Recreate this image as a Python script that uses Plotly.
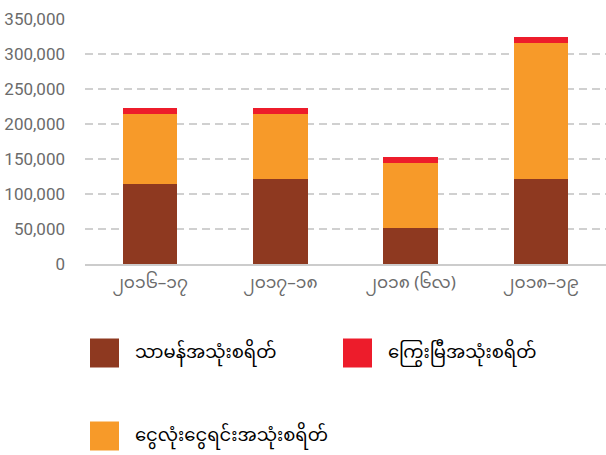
import plotly.graph_objects as go

categories = ["၂၀၁၆–၁၇", "၂၀၁၇–၁၈", "၂၀၁၈ (၆လ)", "၂၀၁၈–၁၉"]
regular = [114300, 121400, 51400, 121400]
capital = [100000, 92900, 92900, 194300]
debt = [8600, 8600, 8600, 8600]

names = ["သာမန်အသုံးစရိတ်", "ငွေလုံးငွေရင်းအသုံးစရိတ်", "ကြွေးမြီအသုံးစရိတ်"]
colors = ["#8E3920", "#F79A29", "#ED1C2B"]
tick_vals = [0, 50000, 100000, 150000, 200000, 250000, 300000, 350000]

MY_FONT = "Noto Sans Myanmar, Padauk, Myanmar Text, Noto Sans, sans-serif"
NUM_FONT = "Liberation Sans Narrow, Arial Narrow, Roboto, sans-serif"

fig = go.Figure()
for vals, name, col in zip([regular, capital, debt], names, colors):
    fig.add_trace(go.Bar(x=categories, y=vals, name=name, marker_color=col,
                         marker_line_width=0, showlegend=False))

fig.update_layout(
    barmode="stack",
    bargap=0.58,
    width=606, height=455,
    margin=dict(l=85, r=0, t=19, b=191),
    paper_bgcolor="white", plot_bgcolor="white",
    xaxis=dict(showgrid=False, showline=True, linecolor="#cccccc", linewidth=2,
               ticks="", ticklabelstandoff=2,
               tickfont=dict(family=MY_FONT, size=17, color="#6b6b6b")),
    yaxis=dict(range=[0, 350000], tickvals=tick_vals, tickformat=",",
               showgrid=True, gridcolor="#d0d0d0", gridwidth=2, griddash="8px,5px",
               zeroline=False, showline=False, ticks="", ticklabelstandoff=19,
               tickfont=dict(family=NUM_FONT, size=17, color="#6b6b6b")),
)

# Manual legend (large square swatches, two columns)
legend_order = [0, 2, 1]
positions = [(90, 353), (343, 353), (90, 436)]
for idx, (px, py) in zip(legend_order, positions):
    fig.add_shape(type="rect", xref="paper", yref="paper",
                  x0=(px - 85) / 521, x1=(px + 29 - 85) / 521,
                  y0=(264 - (py + 14.5)) / 245, y1=(264 - (py - 14.5)) / 245,
                  fillcolor=colors[idx], line_width=0)
    fig.add_annotation(xref="paper", yref="paper", x=(px + 43 - 85) / 521,
                       y=(264 - py) / 245, text=names[idx], showarrow=False,
                       xanchor="left", yanchor="middle",
                       font=dict(family=MY_FONT, size=18, color="#000000"))

fig.write_html("out.html", config={"displayModeBar": False},
               post_script="document.body.style.margin='0';")
